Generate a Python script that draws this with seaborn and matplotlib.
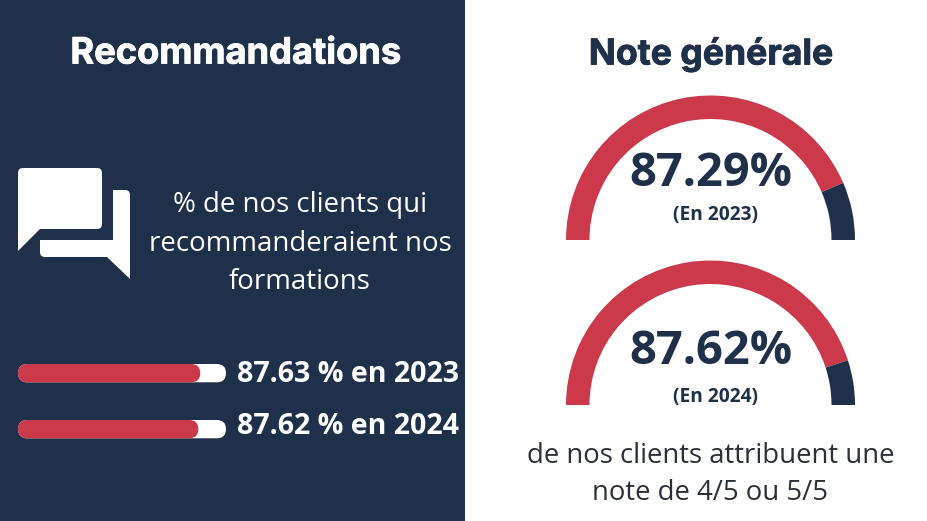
import matplotlib
matplotlib.use("Agg")
import matplotlib.pyplot as plt
import matplotlib.patheffects as pe
import pandas as pd
import seaborn as sns
from matplotlib.patches import FancyBboxPatch, PathPatch, Rectangle
from matplotlib.path import Path

NAVY = "#1f304a"
RED = "#cb394b"

bar_years = ["2023", "2024"]
# bar lengths as drawn in the picture, they differ a bit from the printed labels
bar_values = [87.63, 86.7]
bar_labels = ["87.63 % en 2023", "87.62 % en 2024"]
gauge_values = [87.05, 90.0]
gauge_labels = ["87.29%", "87.62%"]
gauge_years = ["(En 2023)", "(En 2024)"]

W, H = 927, 521

sns.set_theme(style="white")
plt.rcParams["font.family"] = ["Open Sans", "DejaVu Sans"]

fig = plt.figure(figsize=(W / 100, H / 100), dpi=100, facecolor="white")


def px_axes(x0, y0, x1, y1):
    # position given in image pixels, y going down
    return fig.add_axes([x0 / W, 1 - y1 / H, (x1 - x0) / W, (y1 - y0) / H])


bg = px_axes(0, 0, W, H)
bg.set_xlim(0, W)
bg.set_ylim(H, 0)
bg.axis("off")
bg.add_patch(Rectangle((0, 0), 465, H, color=NAVY, lw=0))

# progress bars
ax = px_axes(18, 364, 226, 438.3)
df = pd.DataFrame({"year": bar_years, "value": bar_values, "full": [100, 100]})
sns.barplot(data=df, y="year", x="full", color="white", width=0.327, ax=ax, saturation=1)
sns.barplot(data=df, y="year", x="value", color=RED, width=0.327, ax=ax, saturation=1)
ax.set_xlim(0, 100)
ax.set_ylim(1.1635, -0.1635)
ax.axis("off")
asp = (208 / 100) / 56.0
for p in list(ax.patches):
    x, y, w, h = p.get_x(), p.get_y(), p.get_width(), p.get_height()
    p.set_visible(False)
    ax.add_patch(FancyBboxPatch((x + 4.39, y + 4.39 * asp), w - 8.78, h - 8.78 * asp,
                                boxstyle="round,pad=4.39,rounding_size=4.39",
                                mutation_aspect=asp, fc=p.get_facecolor(), ec="none", lw=0,
                                clip_on=False))

# gauges
for cy, val in zip([240, 405], gauge_values):
    r = 144.5
    g = px_axes(710.5 - r, cy - r, 710.5 + r, cy + r)
    wedges, _ = g.pie([val, 100 - val, 100], startangle=180, counterclock=False,
                      colors=[RED, NAVY, "none"], radius=1,
                      wedgeprops={"width": 1 - 121 / r, "lw": 0})
    g.set_xlim(-1, 1)
    g.set_ylim(-1, 1)
    g.axis("off")

# text and icon on top
top = px_axes(0, 0, W, H)
top.set_xlim(0, W)
top.set_ylim(H, 0)
top.axis("off")
top.patch.set_alpha(0)

# no Montserrat here, Inter with a thin stroke comes closest
t1 = top.text(235.5, 54, "Recommandations", color="white", fontsize=26.1, fontweight="bold",
              family="Inter", ha="center", va="center")
t1.set_path_effects([pe.withStroke(linewidth=0.6, foreground="white")])
t2 = top.text(711, 54, "Note générale", color=NAVY, fontsize=25.6, fontweight="bold",
              family="Inter", ha="center", va="center")
t2.set_path_effects([pe.withStroke(linewidth=0.6, foreground=NAVY)])

for y, s in zip([205, 244, 282], ["% de nos clients qui", "recommanderaient nos", "formations"]):
    top.text(300, y, s, color="white", fontsize=19.9, ha="center", va="center")

for y, s in zip([375, 427], bar_labels):
    top.text(237.5, y, s, color="white", fontsize=20.6, fontweight="bold", ha="left", va="center")

for y, s in zip([174, 351], gauge_labels):
    top.text(710.5, y, s, color=NAVY, fontsize=33.8, fontweight="bold", ha="center", va="center")
for y, s in zip([215, 397], gauge_years):
    top.text(715.5, y, s, color=NAVY, fontsize=13.8, fontweight="bold", ha="center", va="center")

for y, s in zip([456, 493], ["de nos clients attribuent une", "note de 4/5 ou 5/5"]):
    top.text(710.5, y, s, color="#2b2f38", fontsize=19.8, ha="center", va="center")

M, L, C, Z = Path.MOVETO, Path.LINETO, Path.CURVE3, Path.CLOSEPOLY
bubble1 = [(23, 168), (97, 168), (102, 168), (102, 173), (102, 224), (102, 229), (97, 229),
           (40, 229), (18, 251), (18, 173), (18, 168), (23, 168), (23, 168)]
codes1 = [M, L, C, C, L, C, C, L, L, L, C, C, Z]
bubble2 = [(113, 190), (125, 190), (130, 190), (130, 195), (130, 279), (107, 257), (45, 257),
           (40, 257), (40, 252), (40, 240), (113, 240), (113, 190)]
codes2 = [M, L, C, C, L, L, L, C, C, L, L, Z]
top.add_patch(PathPatch(Path(bubble1, codes1), fc="white", ec="none", lw=0))
top.add_patch(PathPatch(Path(bubble2, codes2), fc="white", ec="none", lw=0))

fig.savefig("out.png", dpi=100, facecolor="white")
